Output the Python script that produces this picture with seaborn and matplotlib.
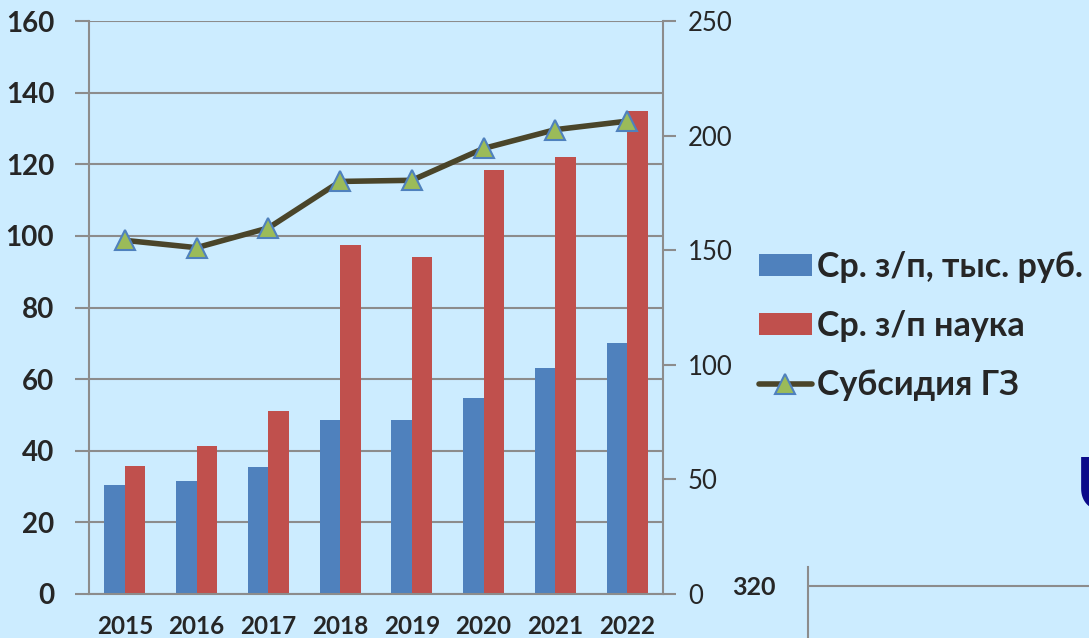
import matplotlib
matplotlib.use("Agg")
import matplotlib.pyplot as plt
import numpy as np
import pandas as pd
import seaborn as sns
from matplotlib.lines import Line2D
from matplotlib.patches import Patch


years = ["2015", "2016", "2017", "2018", "2019", "2020", "2021", "2022"]
salary_avg = [30.4, 31.6, 35.4, 48.5, 48.7, 54.6, 63.0, 70.2]
salary_science = [35.7, 41.3, 51.2, 97.4, 94.0, 118.5, 122.1, 135.0]
subsidy = [154.3, 151.1, 159.7, 180.0, 180.5, 194.4, 202.6, 206.3]
series_names = ["Ср. з/п, тыс. руб.", "Ср. з/п наука", "Субсидия ГЗ"]
left_ticks = [0, 20, 40, 60, 80, 100, 120, 140, 160]
right_ticks = [0, 50, 100, 150, 200, 250]

BG = "#CCECFF"
BLUE = "#4F81BD"
RED = "#C0504D"
LINE = "#4A452A"
GREEN = "#9BBB59"
GRID = "#8C8C8C"


def main() -> None:
    sns.set_theme(style="white")
    plt.rcParams["font.family"] = ["Lato", "DejaVu Sans"]

    bars = pd.DataFrame(
        {
            "year": years * 2,
            "value": salary_avg + salary_science,
            "series": [series_names[0]] * len(years) + [series_names[1]] * len(years),
        }
    )

    fig = plt.figure(figsize=(10.89, 6.38), dpi=100, facecolor=BG)
    ax = fig.add_axes([89 / 1089, 1 - 594 / 638, (663 - 89) / 1089, (594 - 21) / 638])
    ax.set_facecolor(BG)

    sns.barplot(
        data=bars, x="year", y="value", hue="series", palette=[BLUE, RED],
        width=0.57, saturation=1, linewidth=0, legend=False, ax=ax,
    )
    ax.set_ylim(0, 160)
    ax.set_xlim(-0.5, len(years) - 0.5)
    ax.set_yticks(left_ticks)
    ax.set_xlabel("")
    ax.set_ylabel("")
    ax.yaxis.grid(True, color=GRID, linewidth=1.5)
    ax.set_axisbelow(True)
    ax.set_xticks(np.arange(-0.5, len(years)), minor=True)
    ax.tick_params(axis="x", which="major", length=0, pad=15, labelsize=17.5)
    ax.tick_params(axis="x", which="minor", length=8, width=1.5, color=GRID, direction="out")
    ax.tick_params(axis="y", length=10, width=1.5, color=GRID, direction="out", pad=15, labelsize=20)
    for lab in ax.get_xticklabels() + ax.get_yticklabels():
        lab.set_fontweight("bold")
    for side in ["top", "right"]:
        ax.spines[side].set_visible(False)
    for side in ["left", "bottom"]:
        ax.spines[side].set_color(GRID)
        ax.spines[side].set_linewidth(1.5)

    ax2 = ax.twinx()
    sns.lineplot(
        x=np.arange(len(years)), y=subsidy, ax=ax2, color=LINE, linewidth=4,
        marker="^", markersize=14, markerfacecolor=GREEN, markeredgecolor=BLUE,
        markeredgewidth=1.5,
    )
    ax2.set_ylim(0, 250)
    ax2.set_xlim(-0.5, len(years) - 0.5)
    ax2.set_yticks(right_ticks)
    ax2.tick_params(axis="y", length=9, width=1.5, color=GRID, direction="out", pad=9, labelsize=18.5)
    for side in ["top", "left", "bottom"]:
        ax2.spines[side].set_visible(False)
    ax2.spines["right"].set_color(GRID)
    ax2.spines["right"].set_linewidth(1.5)

    handles = [
        Patch(facecolor=BLUE, edgecolor="none"),
        Patch(facecolor=RED, edgecolor="none"),
        Line2D([], [], color=LINE, linewidth=4, marker="^", markersize=14,
               markerfacecolor=GREEN, markeredgecolor=BLUE, markeredgewidth=1.5),
    ]
    fig.legend(
        handles, series_names, loc="upper left", bbox_to_anchor=(752 / 1089, 1 - 244 / 638),
        frameon=False, prop={"weight": "bold", "size": 24.5}, handlelength=1.55,
        handleheight=0.62, handletextpad=0.15, labelspacing=0.8, borderpad=0.2,
        borderaxespad=0,
    )

    # piece of the neighbouring chart visible in the corner
    ax3 = fig.add_axes([808 / 1089, 0, (1089 - 808) / 1089, 71 / 638])
    ax3.set_facecolor("none")
    ax3.set_ylim(280, 334.6)
    ax3.set_yticks([320])
    ax3.set_xticks([])
    ax3.yaxis.grid(True, color=GRID, linewidth=1.5)
    ax3.tick_params(axis="y", length=8, width=1.5, color=GRID, direction="out", pad=15, labelsize=18)
    for lab in ax3.get_yticklabels():
        lab.set_fontweight("bold")
    for side in ["top", "right", "bottom"]:
        ax3.spines[side].set_visible(False)
    ax3.spines["left"].set_color(GRID)
    ax3.spines["left"].set_linewidth(1.5)
    fig.text(1076 / 1089, 1 - 510 / 638, "U", color="#0B0B8A", fontsize=52,
             fontweight="bold", ha="left", va="baseline")

    fig.savefig("out.png", dpi=100, facecolor=BG)


if __name__ == "__main__":
    main()
